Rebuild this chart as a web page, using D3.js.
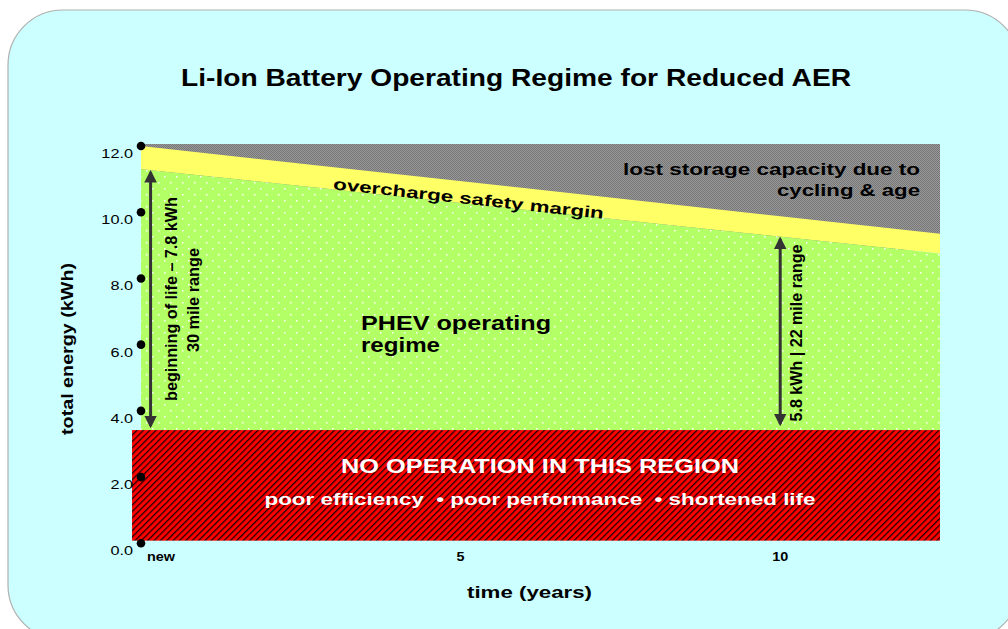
<!DOCTYPE html>
<html>
<head>
<meta charset="utf-8">
<script src="https://cdn.jsdelivr.net/npm/d3@7"></script>
<style>
  body { margin: 0; background: #fff; }
  text { font-family: "Liberation Sans", Arial, sans-serif; }
</style>
</head>
<body>
<script>
// chart values
var yTicks = [0, 2, 4, 6, 8, 10, 12];
var xTicks = [0, 5, 10];
var xTickLabels = ["new", "5", "10"];
var years = [0, 12.5];
var capacityTop = [12.0, 9.35];      // remaining storage capacity (kWh)
var operatingMax = [11.3, 8.75];     // top of the operating regime (kWh)
var lostTop = 12.06;                 // original capacity
var noOpMax = 3.42;                  // bottom of operating regime
var noOpMin = 0.08;
var noOpStart = -0.14;
var arrows = [
  { t: 0.15, from: 3.52, to: 11.23 },
  { t: 10, from: 3.58, to: 9.22 }
];

var width = 1008, height = 629;

var svg = d3.select("body").append("svg")
    .attr("width", width)
    .attr("height", height);

var x = d3.scaleLinear().domain([0, 12.5]).range([141, 940]);
var y = d3.scaleLinear().domain([0, 12]).range([543.3, 146]);

// the original figure is set in a wide face: stretch text to a given length
function fit(sel, len) {
  return sel.attr("textLength", len).attr("lengthAdjust", "spacingAndGlyphs");
}
function widen(sel, k) {
  sel.each(function() {
    var n = this.getComputedTextLength();
    d3.select(this).attr("textLength", n * k).attr("lengthAdjust", "spacingAndGlyphs");
  });
  return sel;
}

// patterns
var defs = svg.append("defs");

var pGray = defs.append("pattern").attr("id", "gray").attr("patternUnits", "userSpaceOnUse")
    .attr("width", 2).attr("height", 2);
pGray.append("rect").attr("width", 2).attr("height", 2).attr("fill", "#999999");
pGray.append("rect").attr("width", 1).attr("height", 1).attr("fill", "#767676");
pGray.append("rect").attr("x", 1).attr("y", 1).attr("width", 1).attr("height", 1).attr("fill", "#767676");

var pGreen = defs.append("pattern").attr("id", "green").attr("patternUnits", "userSpaceOnUse")
    .attr("width", 12).attr("height", 12);
pGreen.append("rect").attr("width", 12).attr("height", 12).attr("fill", "#b3ff66");
pGreen.append("rect").attr("x", 2).attr("y", 2).attr("width", 1.5).attr("height", 1.5).attr("fill", "#ffffff");
pGreen.append("rect").attr("x", 8).attr("y", 8).attr("width", 1.5).attr("height", 1.5).attr("fill", "#ffffff");

var pRed = defs.append("pattern").attr("id", "red").attr("patternUnits", "userSpaceOnUse")
    .attr("width", 4.5).attr("height", 4.5).attr("patternTransform", "rotate(45)");
pRed.append("rect").attr("width", 4.5).attr("height", 4.5).attr("fill", "#ff0000");
pRed.append("rect").attr("width", 1.3).attr("height", 4.5).attr("fill", "#200000");

var arrowHead = defs.append("marker").attr("id", "head")
    .attr("viewBox", "0 0 10 10").attr("refX", 8).attr("refY", 5)
    .attr("markerWidth", 4.2).attr("markerHeight", 4.2)
    .attr("orient", "auto-start-reverse");
arrowHead.append("path").attr("d", "M0,0 L10,5 L0,10 Z").attr("fill", "#333");

// rounded background panel
svg.append("rect")
    .attr("x", 8).attr("y", 10)
    .attr("width", 1012).attr("height", 630)
    .attr("rx", 55).attr("ry", 55)
    .attr("fill", "#ccffff")
    .attr("stroke", "#b0b0b0")
    .attr("stroke-width", 1.2);

fit(svg.append("text")
    .attr("x", 181).attr("y", 86)
    .attr("font-size", 23).attr("font-weight", "bold")
    .text("Li-Ion Battery Operating Regime for Reduced AER"), 670);

// lost capacity (gray)
svg.append("rect")
    .attr("x", x(years[0])).attr("y", y(lostTop))
    .attr("width", x(years[1]) - x(years[0]))
    .attr("height", y(d3.min(capacityTop) - 0.5) - y(lostTop))
    .attr("fill", "url(#gray)");

// yellow margin + green regime as areas
var pts = years.map(function(t, i) {
  return { t: t, cap: capacityTop[i], op: operatingMax[i] };
});

svg.append("path").datum(pts)
    .attr("fill", "#ffff66")
    .attr("d", d3.area().x(function(d) { return x(d.t); })
        .y0(function(d) { return y(d.op); })
        .y1(function(d) { return y(d.cap); }));

svg.append("path").datum(pts)
    .attr("fill", "url(#green)")
    .attr("d", d3.area().x(function(d) { return x(d.t); })
        .y0(y(noOpMax))
        .y1(function(d) { return y(d.op); }));

// no operation region
svg.append("rect")
    .attr("x", x(noOpStart)).attr("y", y(noOpMax))
    .attr("width", x(years[1]) - x(noOpStart))
    .attr("height", y(noOpMin) - y(noOpMax))
    .attr("fill", "url(#red)");

// axes (dots + labels)
svg.selectAll(".ydot").data(yTicks).enter().append("circle")
    .attr("cx", x(0)).attr("cy", function(d) { return y(d); })
    .attr("r", 4.3).attr("fill", "#000");

widen(svg.selectAll(".ylab").data(yTicks).enter().append("text")
    .attr("x", 133).attr("y", function(d) { return y(d) + 12; })
    .attr("text-anchor", "end")
    .attr("font-size", 13)
    .text(function(d) { return d3.format(".1f")(d); }), 1.25);

widen(svg.selectAll(".xlab").data(xTicks).enter().append("text")
    .attr("x", function(d, i) { return x(d) + (i === 0 ? 6 : 0); })
    .attr("y", 561)
    .attr("text-anchor", function(d, i) { return i === 0 ? "start" : "middle"; })
    .attr("font-size", 12).attr("font-weight", "bold")
    .text(function(d, i) { return xTickLabels[i]; }), 1.2);

fit(svg.append("text")
    .attr("transform", "translate(73,349) rotate(-90)")
    .attr("text-anchor", "middle")
    .attr("font-size", 17).attr("font-weight", "bold")
    .text("total energy (kWh)"), 172);

fit(svg.append("text")
    .attr("x", 467).attr("y", 598)
    .attr("font-size", 17).attr("font-weight", "bold")
    .text("time (years)"), 125);

// arrows
svg.selectAll(".arrow").data(arrows).enter().append("line")
    .attr("x1", function(d) { return x(d.t); })
    .attr("x2", function(d) { return x(d.t); })
    .attr("y1", function(d) { return y(d.from) - 1; })
    .attr("y2", function(d) { return y(d.to) + 1; })
    .attr("stroke", "#333").attr("stroke-width", 3)
    .attr("marker-start", "url(#head)")
    .attr("marker-end", "url(#head)");

// annotations
fit(svg.append("text").attr("x", 623).attr("y", 175)
    .attr("font-size", 17).attr("font-weight", "bold")
    .text("lost storage capacity due to"), 297);
fit(svg.append("text").attr("x", 777).attr("y", 196)
    .attr("font-size", 17).attr("font-weight", "bold")
    .text("cycling & age"), 143);

var angle = Math.atan2(y(capacityTop[1]) - y(capacityTop[0]), x(years[1]) - x(years[0])) * 180 / Math.PI;
fit(svg.append("text")
    .attr("transform", "translate(468,204) rotate(" + angle + ")")
    .attr("text-anchor", "middle")
    .attr("font-size", 16).attr("font-weight", "bold")
    .text("overcharge safety margin"), 272);

fit(svg.append("text").attr("x", 361).attr("y", 330)
    .attr("font-size", 20).attr("font-weight", "bold")
    .text("PHEV operating"), 190);
fit(svg.append("text").attr("x", 361).attr("y", 352)
    .attr("font-size", 20).attr("font-weight", "bold")
    .text("regime"), 79);

fit(svg.append("text")
    .attr("transform", "translate(177,299) rotate(-90)")
    .attr("text-anchor", "middle")
    .attr("font-size", 16.5).attr("font-weight", "bold")
    .text("beginning of life \u2013 7.8 kWh"), 204);

fit(svg.append("text")
    .attr("transform", "translate(199,300) rotate(-90)")
    .attr("text-anchor", "middle")
    .attr("font-size", 16.5).attr("font-weight", "bold")
    .text("30 mile range"), 104);

fit(svg.append("text")
    .attr("transform", "translate(802,333) rotate(-90)")
    .attr("text-anchor", "middle")
    .attr("font-size", 17).attr("font-weight", "bold")
    .text("5.8 kWh | 22 mile range"), 177);

fit(svg.append("text")
    .attr("x", 540).attr("y", 473)
    .attr("text-anchor", "middle")
    .attr("font-size", 20).attr("font-weight", "bold")
    .attr("fill", "#fff")
    .text("NO OPERATION IN THIS REGION"), 398);

fit(svg.append("text")
    .attr("x", 540).attr("y", 505)
    .attr("text-anchor", "middle")
    .attr("font-size", 17).attr("font-weight", "bold")
    .attr("fill", "#fff")
    .attr("xml:space", "preserve")
    .text("poor efficiency  \u2022 poor performance  \u2022 shortened life"), 551);
</script>
</body>
</html>
